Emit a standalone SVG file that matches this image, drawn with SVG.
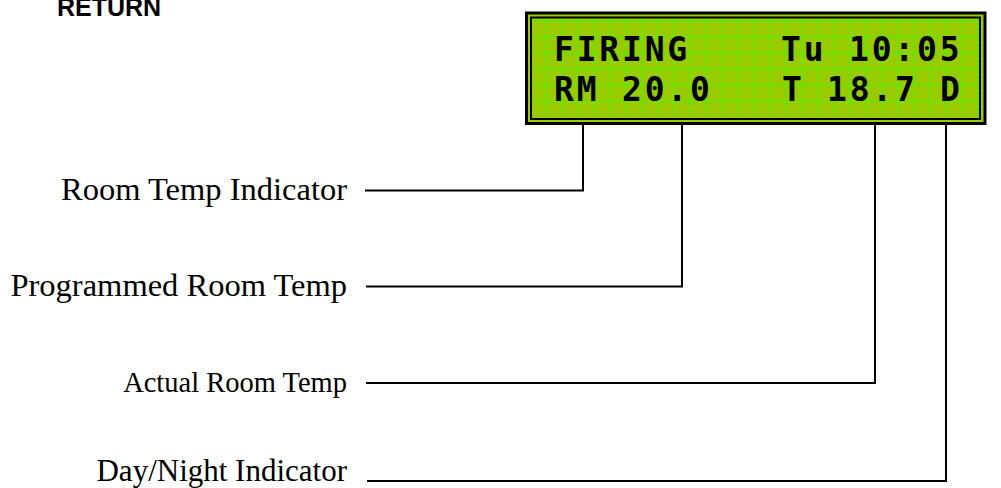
<svg xmlns="http://www.w3.org/2000/svg" width="1001" height="488" viewBox="0 0 1001 488">
<style>
.lbl{font-family:"Liberation Serif","Times New Roman",serif;font-size:32.5px;fill:#000;text-anchor:end}
.lcd{font-family:"DejaVu Sans Mono",monospace;font-weight:bold;font-size:33px;letter-spacing:2.8px;fill:#000}
.conn{fill:none;stroke:#000;stroke-width:2}
.grid{stroke:#33ff00;stroke-width:1.5;stroke-dasharray:2 2}
</style>
<rect width="1001" height="488" fill="#fff"/>
<g id="title">
<text x="57" y="16" style="font-family:'Liberation Sans',Arial,sans-serif;font-weight:bold;font-size:25px;fill:#000">RETURN</text>
</g>
<g id="lcd">
<rect x="526.5" y="13" width="458.5" height="110.5" fill="#99cc00" stroke="#000" stroke-width="3"/>
<g class="grid">
<path d="M531 21H980M531 37H980M531 53H980M531 69H980M531 85H980M531 101H980"/>
<path d="M546 18V119M562 18V119M578 18V119M594 18V119M610 18V119M626 18V119M642 18V119M658 18V119M674 18V119M690 18V119M706 18V119M722 18V119M738 18V119M754 18V119M770 18V119M786 18V119M802 18V119M818 18V119M834 18V119M850 18V119M866 18V119M882 18V119M898 18V119M914 18V119M930 18V119M946 18V119M962 18V119M978 18V119"/>
</g>
<rect x="531" y="17.5" width="449" height="101.5" fill="none" stroke="#000" stroke-width="2"/>
<text class="lcd" x="554" y="61">FIRING</text>
<text class="lcd" x="781" y="61">Tu</text>
<text class="lcd" x="849" y="61">10:05</text>
<text class="lcd" x="554" y="101">RM</text>
<text class="lcd" x="622" y="101">20.0</text>
<text class="lcd" x="782" y="101">T</text>
<text class="lcd" x="827" y="101">18.7</text>
<text class="lcd" x="940" y="101">D</text>
</g>
<g id="label-room-temp-indicator"><text class="lbl" x="347" y="200">Room Temp Indicator</text></g>
<g id="label-programmed-room-temp"><text class="lbl" x="347" y="296">Programmed Room Temp</text></g>
<g id="label-actual-room-temp"><text class="lbl" x="347" y="392" style="font-size:28.5px">Actual Room Temp</text></g>
<g id="label-day-night-indicator"><text class="lbl" x="347" y="481" style="font-size:31px">Day/Night Indicator</text></g>
<g id="connectors">
<path class="conn" d="M365 190.5H583V125"/>
<path class="conn" d="M366 286.5H682V125"/>
<path class="conn" d="M366 383H875V125"/>
<path class="conn" d="M367 481H946V125"/>
</g>
</svg>
